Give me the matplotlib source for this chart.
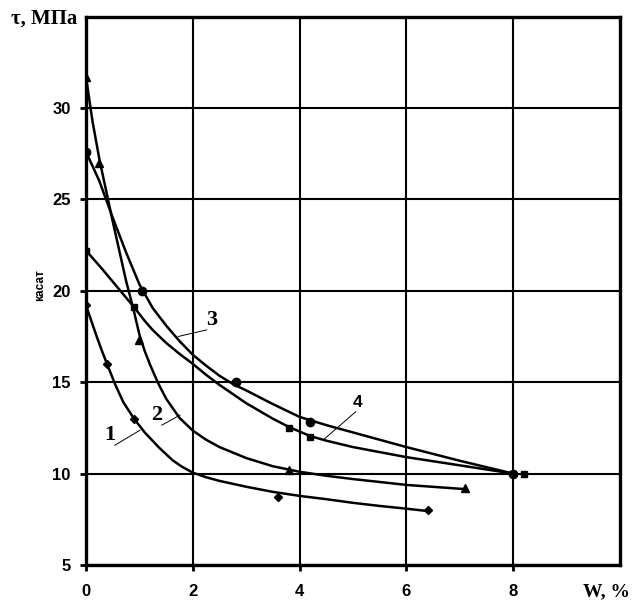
import matplotlib
matplotlib.use('Agg')
import matplotlib.pyplot as plt

# --- MEASURED POINTS (W, %  vs  tau, MPa) ---
w1 = [0, 0.4, 0.9, 3.6, 6.4]
t1 = [19.2, 16.0, 13.0, 8.7, 8.0]
w2 = [0, 0.25, 1.0, 3.8, 7.1]
t2 = [31.7, 27.0, 17.3, 10.2, 9.2]
w3 = [0, 1.05, 2.8, 4.2, 8.0]
t3 = [27.6, 20.0, 15.0, 12.8, 10.0]
w4 = [0, 0.9, 3.8, 4.2, 8.2]
t4 = [22.2, 19.1, 12.5, 12.0, 10.0]

# --- TREND CURVES ---
cx1 = [0, 0.1, 0.2, 0.3, 0.4, 0.55, 0.7, 0.9, 1.1, 1.375, 1.625, 1.8, 2.0, 2.25, 2.5,
       3.0, 3.5, 4.0, 4.5, 5.0, 5.5, 6.0, 6.4]
cy1 = [19.2, 18.35, 17.5, 16.7, 15.95, 14.85, 13.9, 13.0, 12.25, 11.4, 10.72, 10.37, 10.05, 9.8, 9.6,
       9.28, 9.0, 8.78, 8.6, 8.4, 8.23, 8.08, 7.95]
cx2 = [0, 0.12, 0.25, 0.5, 0.75, 0.9, 1.0, 1.1, 1.2, 1.35, 1.5, 1.75, 2.0, 2.25, 2.5,
       3.0, 3.5, 4.0, 4.5, 5.0, 6.0, 7.1]
cy2 = [31.7, 29.3, 27.2, 23.8, 20.55, 18.85, 17.6, 16.7, 15.95, 14.95, 14.1, 13.05, 12.35, 11.85, 11.45,
       10.85, 10.4, 10.1, 9.88, 9.7, 9.38, 9.15]
cx3 = [0, 0.25, 0.5, 0.75, 1.0, 1.25, 1.5, 1.75, 2.0, 2.25, 2.5, 2.75, 3.0, 3.5, 4.0, 4.5,
       5.0, 6.0, 7.0, 8.0]
cy3 = [27.6, 26.0, 24.0, 22.1, 20.35, 19.05, 18.1, 17.25, 16.5, 15.9, 15.35, 14.9, 14.55, 13.8, 13.1, 12.65,
       12.25, 11.45, 10.7, 10.0]
cx4 = [0, 0.3, 0.6, 0.9, 1.1, 1.25, 1.5, 1.75, 2.0, 2.25, 2.5, 3.0, 3.5, 3.8, 4.2, 4.5, 5.0,
       6.0, 7.0, 8.0]
cy4 = [22.2, 21.2, 20.15, 19.1, 18.35, 17.85, 17.15, 16.55, 16.0, 15.4, 14.85, 13.85, 13.0, 12.55, 12.05, 11.8, 11.45,
       10.9, 10.45, 10.0]

x_ticks = [0, 2, 4, 6, 8]
y_ticks = [5, 10, 15, 20, 25, 30]

# curve labels: text, text pos, leader start, leader end, font
labels = [
    ('1', (0.45, 12.1), (0.54, 11.55), (1.01, 12.37), 'serif'),
    ('2', (1.33, 13.2), (1.42, 12.65), (1.76, 13.2), 'serif'),
    ('3', (2.36, 18.4), (2.26, 17.86), (1.73, 17.5), 'serif'),
    ('4', (5.08, 13.9), (5.05, 13.38), (4.45, 11.86), 'sans-serif'),
]

plt.rcParams['font.family'] = ['Liberation Sans', 'DejaVu Sans']
fig = plt.figure(figsize=(6.33, 6.0), dpi=100)
ax = fig.add_axes([86 / 633, 35 / 600, 534 / 633, 548.5 / 600])

ax.set_xlim(0, 10)
ax.set_ylim(5, 35)
ax.set_xticks(x_ticks)
ax.set_yticks(y_ticks)
ax.grid(True, color='black', linewidth=1.5)
ax.set_axisbelow(True)
for sp in ax.spines.values():
    sp.set_linewidth(2.4)
ax.tick_params(direction='out', length=4, width=2, labelsize=12)
ax.tick_params(axis='x', pad=10)
ax.tick_params(axis='y', pad=7)
for lab in ax.get_xticklabels() + ax.get_yticklabels():
    lab.set_fontweight('bold')

# curves
for cx, cy in [(cx1, cy1), (cx2, cy2), (cx3, cy3), (cx4, cy4)]:
    ax.plot(cx, cy, color='black', linewidth=1.8, solid_joinstyle='round', zorder=3)

# points
ax.plot(w1, t1, 'D', color='black', markersize=4.5, zorder=4)
ax.plot(w2, t2, '^', color='black', markersize=6, zorder=4)
ax.plot(w3, t3, 'o', color='black', markersize=6, zorder=4)
ax.plot(w4, t4, 's', color='black', markersize=4.5, zorder=4)

for txt, tpos, p0, p1, fam in labels:
    ax.plot([p0[0], p1[0]], [p0[1], p1[1]], color='black', linewidth=0.7, zorder=3)
    if fam == 'serif':
        ax.text(tpos[0], tpos[1], txt, fontsize=16, family='Liberation Serif',
                fontweight='bold', ha='center', va='center')
    else:
        ax.text(tpos[0], tpos[1], txt, fontsize=12.5, fontweight='bold',
                ha='center', va='center')

fig.text(77 / 633, 1 - 19 / 600, 'τ, МПа', fontsize=15, family='Liberation Serif',
         fontweight='bold', ha='right', va='center')
fig.text(630 / 633, 1 - 592 / 600, 'W, %', fontsize=14, family='Liberation Serif',
         fontweight='bold', ha='right', va='center')
fig.text(40 / 633, 1 - 285 / 600, 'касат', fontsize=8.5, fontweight='bold',
         rotation=90, ha='center', va='center')

fig.savefig('out.png', dpi=100)
